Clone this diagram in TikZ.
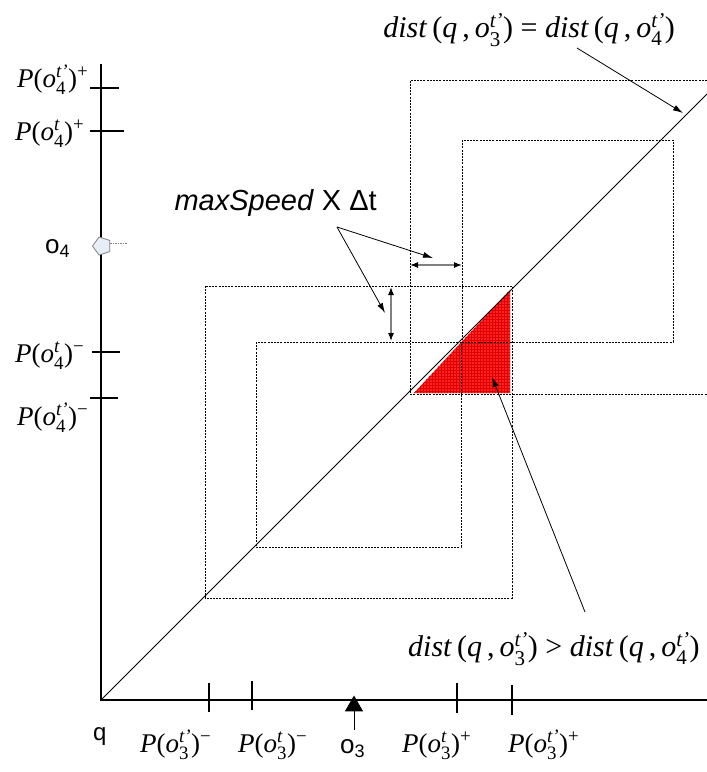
\documentclass[tikz,border=0pt]{standalone}
\usepackage{amsmath}
\usepackage{fontspec}
\setmainfont{Liberation Serif}
\newfontfamily\arialf{Liberation Sans}
\usetikzlibrary{arrows.meta,shapes.geometric,patterns}
\newcommand\Plab[3]{\textit{P}(\textit{o}$^{\textit{#1}}_{\text{#2}}$)$^{\text{#3}}$}
\newcommand\Dlab[1]{\textit{dist}\,(\textit{q}\,,\,\textit{o}$^{\textit{t'}}_{\text{#1}}$)}
\begin{document}
\begin{tikzpicture}[x=1pt,y=-1pt,
  axis/.style={line width=2.6pt},
  tickmark/.style={line width=2.6pt},
  box/.style={line width=0.8pt, dash pattern=on 2pt off 1.2pt},
  ptr/.style={line width=0.8pt, -{Latex[length=10pt,width=6pt]}},
  dbl/.style={line width=1.1pt, draw=gray, {Latex[length=8pt,width=6pt,color=black]}-{Latex[length=8pt,width=6pt,color=black]}},
  plab/.style={inner sep=0pt, font=\fontsize{27}{30}\selectfont},
  dlab/.style={inner sep=0pt, font=\fontsize{30}{33}\selectfont},
  slab/.style={inner sep=0pt, font=\arialf\fontsize{26}{28}\selectfont}]
\useasboundingbox (0,0) rectangle (707,772);
% key coordinates
\coordinate (O) at (101,700);
\coordinate (Ytop) at (101,64);
\coordinate (Xend) at (707,700);
\coordinate (Dend) at (707,94);
% red region
\fill[fill={rgb,255:red,255;green,35;blue,35}] (414,393) -- (510,290) -- (510,393) -- cycle;
\fill[pattern=grid, pattern color={rgb,255:red,225;green,0;blue,0}] (414,393) -- (510,290) -- (510,393) -- cycle;
% dashed boxes
\draw[box] (205,286) rectangle (512,598);
\draw[box] (256,342) rectangle (461,547);
\draw[box] (707,80) -- (410,80) -- (410,394) -- (707,394);
\draw[box] (462,140) rectangle (673,342);
% axes and diagonal
\draw[axis] (Ytop) -- (O) -- (Xend);
\draw[line width=0.9pt] (O) -- (Dend);
% ticks on vertical axis
\coordinate (v1a) at (90,88);  \coordinate (v1b) at (119,88);
\coordinate (v2a) at (90,131); \coordinate (v2b) at (124,131);
\coordinate (v3a) at (92,352); \coordinate (v3b) at (120,352);
\coordinate (v4a) at (90,398); \coordinate (v4b) at (118,398);
\draw[tickmark] (v1a) -- (v1b);
\draw[tickmark] (v2a) -- (v2b);
\draw[tickmark] (v3a) -- (v3b);
\draw[tickmark] (v4a) -- (v4b);
% ticks on horizontal axis
\coordinate (h1a) at (209,683); \coordinate (h1b) at (209,712);
\coordinate (h2a) at (252,681); \coordinate (h2b) at (252,710);
\coordinate (h3a) at (457,683); \coordinate (h3b) at (457,713);
\coordinate (h4a) at (512,685); \coordinate (h4b) at (512,715);
\draw[tickmark] (h1a) -- (h1b);
\draw[tickmark] (h2a) -- (h2b);
\draw[tickmark] (h3a) -- (h3b);
\draw[tickmark] (h4a) -- (h4b);
% vertical axis labels
\node[plab, anchor=base west] (l1) at (17,87) {\Plab{t'}{4}{+}};
\node[plab, anchor=base west] (l2) at (15,140) {\Plab{t}{4}{+}};
\node[plab, anchor=base west] (l3) at (15,362) {\Plab{t}{4}{−}};
\node[plab, anchor=base west] (l4) at (17,425) {\Plab{t'}{4}{−}};
% horizontal axis labels
\node[plab, anchor=base west] (b1) at (140,752) {\Plab{t'}{3}{−}};
\node[plab, anchor=base west] (b2) at (238,752) {\Plab{t}{3}{−}};
\node[plab, anchor=base west] (b3) at (402,752) {\Plab{t}{3}{+}};
\node[plab, anchor=base west] (b4) at (508,752) {\Plab{t'}{3}{+}};
% q, o3, o4
\node[slab, font=\arialf\fontsize{24}{26}\selectfont, anchor=base west] (q) at (93,740) {q};
\node[regular polygon, regular polygon sides=3, fill=black, minimum size=21pt, inner sep=0pt] (o3m) at (354,706) {};
\coordinate (o3s) at (354,730);
\draw[line width=0.8pt] (o3m.south) -- (o3s);
\node[slab, anchor=base west] (o3) at (340,753) {o\raisebox{-4pt}{\fontsize{18}{18}\selectfont 3}};
\node[regular polygon, regular polygon sides=5, shape border rotate=90, minimum size=19pt, inner sep=0pt,
      fill={rgb,255:red,232;green,238;blue,248}, draw=gray, line width=0.8pt] (o4m) at (102,246) {};
\coordinate (o4e) at (127,243);
\draw[gray, line width=0.9pt, dash pattern=on 1.5pt off 1pt] (o4m.east |- o4e) -- (o4e);
\node[slab, anchor=base west] (o4) at (45,253) {o\raisebox{-4pt}{\fontsize{18}{18}\selectfont 4}};
% maxSpeed annotation
\node[slab, font=\arialf\fontsize{29}{31}\selectfont, anchor=base east] (ms) at (377,210) {\textit{maxSpeed} X Δt};
\coordinate (msp) at (337,227);
\coordinate (msh) at (433,258);
\coordinate (msv) at (385,313);
\draw[ptr] (msp) -- (msh);
\draw[ptr] (msp) -- (msv);
\coordinate (ha) at (410,265); \coordinate (hb) at (462,265);
\coordinate (va) at (391,287); \coordinate (vb) at (391,341);
\draw[dbl] (ha) -- (hb);
\draw[dbl] (va) -- (vb);
% dist labels
\node[dlab, anchor=base east] (dtop) at (675,37) {\Dlab{3} = \Dlab{4}};
\coordinate (dtp) at (577,48);
\coordinate (dth) at (683,113);
\draw[ptr] (dtp) -- (dth);
\node[dlab, anchor=base west] (dbot) at (408,656) {\Dlab{3} > \Dlab{4}};
\coordinate (dbp) at (585,612);
\coordinate (dbh) at (492,377);
\draw[ptr] (dbp) -- (dbh);
\end{tikzpicture}
\end{document}
